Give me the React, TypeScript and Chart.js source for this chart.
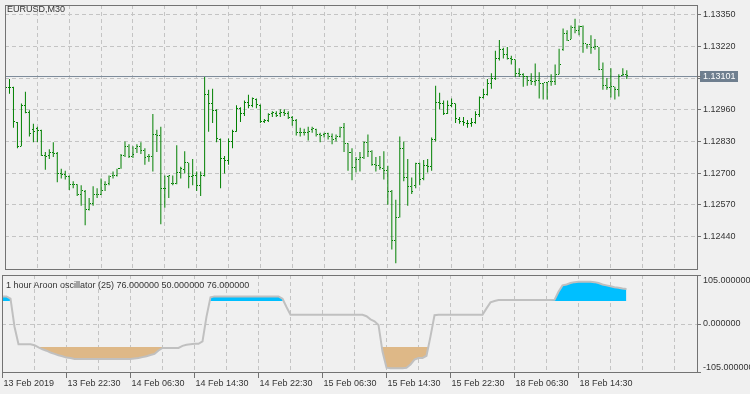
import React, { useEffect, useRef } from "react";
import { Chart, registerables } from "chart.js";
Chart.register(...registerables);

const FONT = "'Liberation Sans', Arial, sans-serif";
const FONT_SIZE = 9;
const TEXT = "#343434";
const GRID = "#c4c4c4";
const FRAME = "#737373";
const BAR = "#008000";

const symbolTitle = "EURUSD,M30";
const indicatorTitle = "1 hour Aroon oscillator (25) 76.000000 50.000000 76.000000";

const opens = [
  1.13051, 1.13051, 1.13051, 1.12907, 1.12811, 1.12979, 1.12951, 1.12879, 1.12883, 1.12875,
  1.12775, 1.12775, 1.12787, 1.12783, 1.12699, 1.12695, 1.12687, 1.12655, 1.12655, 1.12611,
  1.12627, 1.12551, 1.12575, 1.12611, 1.12611, 1.12655, 1.12659, 1.12691, 1.12691, 1.12719,
  1.12775, 1.12811, 1.12771, 1.12803, 1.12811, 1.12795, 1.12767, 1.12771, 1.12859, 1.12855,
  1.12639, 1.12687, 1.12659, 1.12659, 1.12703, 1.12715, 1.12743, 1.12687, 1.12691, 1.12651,
  1.12691, 1.13023, 1.12987, 1.12959, 1.12839, 1.12759, 1.12751, 1.12831, 1.12871, 1.12967,
  1.12947, 1.12991, 1.12979, 1.13003, 1.12979, 1.12911, 1.12915, 1.12947, 1.12947, 1.12947,
  1.12951, 1.12947, 1.12931, 1.12915, 1.12867, 1.12867, 1.12867, 1.12879, 1.12879, 1.12859,
  1.12859, 1.12863, 1.12851, 1.12843, 1.12851, 1.12887, 1.12823, 1.12787, 1.12723, 1.12755,
  1.12763, 1.12827, 1.12791, 1.12735, 1.12731, 1.12719, 1.12711, 1.12627, 1.12423, 1.12519,
  1.12803, 1.12683, 1.12647, 1.12651, 1.12739, 1.12679, 1.12731, 1.12727, 1.12839, 1.12991,
  1.12987, 1.12947, 1.12979, 1.12987, 1.12919, 1.12911, 1.12903, 1.12903, 1.12907, 1.12943,
  1.13011, 1.13023, 1.13067, 1.13091, 1.13171, 1.13207, 1.13187, 1.13171, 1.13167, 1.13111,
  1.13107, 1.13099, 1.13079, 1.13075, 1.13079, 1.13067, 1.13071, 1.13075, 1.13075, 1.13107,
  1.13207, 1.13275, 1.13251, 1.13299, 1.13287, 1.13303, 1.13231, 1.13227, 1.13215, 1.13219,
  1.13127, 1.13059, 1.13051, 1.13055, 1.13043, 1.13103, 1.13107,
];

const highs = [
  1.13079, 1.13087, 1.13055, 1.12911, 1.12987, 1.13035, 1.12959, 1.12903, 1.12891, 1.12879,
  1.12787, 1.12799, 1.12827, 1.12787, 1.12719, 1.12711, 1.12691, 1.12667, 1.12655, 1.12651,
  1.12631, 1.12599, 1.12647, 1.12639, 1.12679, 1.12667, 1.12691, 1.12707, 1.12719, 1.12779,
  1.12831, 1.12819, 1.12811, 1.12819, 1.12827, 1.12803, 1.12779, 1.12943, 1.12879, 1.12891,
  1.12691, 1.12691, 1.12691, 1.12815, 1.12727, 1.12791, 1.12743, 1.12759, 1.12707, 1.12707,
  1.13095, 1.13043, 1.13047, 1.12963, 1.12843, 1.12771, 1.12843, 1.12879, 1.12979, 1.12971,
  1.12999, 1.13023, 1.13011, 1.13007, 1.12983, 1.12923, 1.12947, 1.12955, 1.12955, 1.12963,
  1.12963, 1.12955, 1.12935, 1.12923, 1.12887, 1.12883, 1.12891, 1.12891, 1.12883, 1.12867,
  1.12867, 1.12867, 1.12863, 1.12859, 1.12891, 1.12907, 1.12823, 1.12803, 1.12767, 1.12787,
  1.12831, 1.12859, 1.12795, 1.12767, 1.12771, 1.12791, 1.12731, 1.12631, 1.12591, 1.12851,
  1.12831, 1.12759, 1.12683, 1.12743, 1.12743, 1.12755, 1.12759, 1.12847, 1.13059, 1.13031,
  1.12999, 1.12999, 1.13007, 1.12987, 1.12931, 1.12931, 1.12919, 1.12927, 1.12955, 1.13015,
  1.13047, 1.13087, 1.13111, 1.13203, 1.13247, 1.13215, 1.13219, 1.13183, 1.13167, 1.13131,
  1.13111, 1.13099, 1.13111, 1.13151, 1.13115, 1.13071, 1.13075, 1.13107, 1.13147, 1.13211,
  1.13295, 1.13287, 1.13307, 1.13335, 1.13307, 1.13307, 1.13231, 1.13267, 1.13251, 1.13219,
  1.13155, 1.13091, 1.13131, 1.13055, 1.13107, 1.13131, 1.13123,
];

const lows = [
  1.13039, 1.13027, 1.12887, 1.12803, 1.12811, 1.12947, 1.12851, 1.12827, 1.12827, 1.12771,
  1.12715, 1.12759, 1.12767, 1.12663, 1.12679, 1.12675, 1.12631, 1.12639, 1.12607, 1.12567,
  1.12487, 1.12547, 1.12567, 1.12599, 1.12611, 1.12627, 1.12651, 1.12679, 1.12687, 1.12719,
  1.12767, 1.12763, 1.12763, 1.12783, 1.12779, 1.12735, 1.12747, 1.12707, 1.12787, 1.12491,
  1.12559, 1.12599, 1.12651, 1.12655, 1.12679, 1.12699, 1.12639, 1.12651, 1.12627, 1.12607,
  1.12687, 1.12871, 1.12907, 1.12827, 1.12639, 1.12699, 1.12735, 1.12803, 1.12871, 1.12911,
  1.12935, 1.12967, 1.12971, 1.12967, 1.12907, 1.12907, 1.12911, 1.12931, 1.12931, 1.12931,
  1.12935, 1.12923, 1.12895, 1.12855, 1.12851, 1.12855, 1.12835, 1.12867, 1.12851, 1.12827,
  1.12847, 1.12839, 1.12819, 1.12831, 1.12847, 1.12787, 1.12711, 1.12671, 1.12703, 1.12707,
  1.12759, 1.12767, 1.12731, 1.12707, 1.12715, 1.12675, 1.12571, 1.12387, 1.12331, 1.12519,
  1.12667, 1.12567, 1.12615, 1.12639, 1.12651, 1.12671, 1.12703, 1.12711, 1.12831, 1.12963,
  1.12939, 1.12943, 1.12971, 1.12907, 1.12903, 1.12895, 1.12887, 1.12891, 1.12903, 1.12931,
  1.13007, 1.13019, 1.13047, 1.13083, 1.13163, 1.13171, 1.13167, 1.13147, 1.13095, 1.13095,
  1.13055, 1.13059, 1.13063, 1.13059, 1.13007, 1.13003, 1.13003, 1.13059, 1.13063, 1.13107,
  1.13203, 1.13243, 1.13251, 1.13275, 1.13267, 1.13195, 1.13211, 1.13191, 1.13207, 1.13123,
  1.13043, 1.13043, 1.13011, 1.13003, 1.13015, 1.13099, 1.13087,
];

const closes = [
  1.13051, 1.13051, 1.12911, 1.12811, 1.12979, 1.12951, 1.12863, 1.12871, 1.12875, 1.12775,
  1.12771, 1.12787, 1.12783, 1.12699, 1.12695, 1.12687, 1.12655, 1.12655, 1.12611, 1.12631,
  1.12551, 1.12575, 1.12611, 1.12611, 1.12631, 1.12655, 1.12687, 1.12691, 1.12719, 1.12775,
  1.12811, 1.12771, 1.12779, 1.12811, 1.12795, 1.12763, 1.12771, 1.12859, 1.12855, 1.12639,
  1.12639, 1.12691, 1.12659, 1.12703, 1.12719, 1.12743, 1.12687, 1.12691, 1.12651, 1.12691,
  1.13023, 1.12987, 1.12959, 1.12843, 1.12759, 1.12751, 1.12831, 1.12871, 1.12967, 1.12947,
  1.12991, 1.12979, 1.13007, 1.12983, 1.12911, 1.12915, 1.12943, 1.12951, 1.12939, 1.12951,
  1.12947, 1.12931, 1.12915, 1.12867, 1.12867, 1.12867, 1.12871, 1.12883, 1.12859, 1.12855,
  1.12863, 1.12851, 1.12839, 1.12851, 1.12887, 1.12823, 1.12787, 1.12723, 1.12755, 1.12763,
  1.12827, 1.12791, 1.12735, 1.12731, 1.12723, 1.12711, 1.12627, 1.12423, 1.12519, 1.12803,
  1.12683, 1.12647, 1.12627, 1.12739, 1.12675, 1.12731, 1.12727, 1.12839, 1.12991, 1.12987,
  1.12947, 1.12979, 1.12987, 1.12927, 1.12911, 1.12907, 1.12903, 1.12907, 1.12943, 1.13011,
  1.13023, 1.13067, 1.13091, 1.13171, 1.13207, 1.13187, 1.13171, 1.13167, 1.13111, 1.13107,
  1.13099, 1.13079, 1.13075, 1.13079, 1.13067, 1.13071, 1.13075, 1.13075, 1.13107, 1.13147,
  1.13275, 1.13247, 1.13299, 1.13287, 1.13303, 1.13231, 1.13227, 1.13215, 1.13219, 1.13127,
  1.13059, 1.13051, 1.13055, 1.13043, 1.13099, 1.13107, 1.13101,
];

const aroon = [
  60, 60, 55, -6, -44, -44, -44, -44, -46, -51,
  -55, -58, -62, -65, -68, -70, -73, -74, -76, -76,
  -76, -76, -76, -76, -76, -76, -76, -76, -76, -76,
  -76, -76, -76, -75, -74, -72, -70, -67.5, -65, -57.5,
  -52, -52, -52, -52, -52, -47.5, -45, -44, -43, -43,
  -38, 16, 58, 60, 60, 60, 60, 60, 60, 60,
  60, 60, 60, 60, 60, 60, 60, 60, 60, 60,
  55, 37, 20, 20, 20, 20, 20, 20, 20, 20,
  20, 20, 20, 20, 20, 20, 20, 20, 20, 20,
  20, 17, 10, 6, -2, -60, -95, -96, -96, -96,
  -96, -95, -88, -77.6, -74, -74, -69, -27, 19, 20,
  20, 20, 20, 20, 20, 20, 20, 20, 20, 20,
  20, 34, 47, 50, 52, 52, 52, 52, 52, 52,
  52, 52, 52, 52, 52, 52, 52, 52, 52.5, 70,
  84, 86, 89, 91, 92, 92, 92, 92, 91, 89,
  86, 84, 82, 80, 79, 77, 76,
];

const bidPrice = 1.13101;
const bidLabel = "1.13101";
const upperLevel = 50;
const lowerLevel = -50;

const priceTicks = [1.1244, 1.1257, 1.127, 1.1283, 1.1296, 1.1309, 1.1322, 1.1335];
const priceTickLabels = ["1.12440", "1.12570", "1.12700", "1.12830", "1.12960", "", "1.13220", "1.13350"];
const gridBars = [0, 8, 16, 24, 32, 40, 48, 56, 64, 72, 80, 88, 96, 104, 112, 120, 128, 136, 144, 152, 160, 168];
const timeTickBars = [0, 16, 32, 48, 64, 80, 96, 112, 128, 144];
const timeTickLabels = [
  "13 Feb 2019", "13 Feb 22:30", "14 Feb 06:30", "14 Feb 14:30", "14 Feb 22:30",
  "15 Feb 06:30", "15 Feb 14:30", "15 Feb 22:30", "18 Feb 06:30", "18 Feb 14:30",
];
const oscTicks = [-105, 0, 105];
const oscTickLabels: (string | string[])[] = [["-105.000000", ""], "0.000000", ["", "105.000000"]];

const xMin = -0.125;
const xMax = 173.875;
const priceMin = 1.12303;
const priceMax = 1.13391;
const oscMin = -106.5217;
const oscMax = 106.5217;

function tickImage(side: "left" | "right", len: number) {
  const c = document.createElement("canvas");
  c.width = 2 * len + 1;
  c.height = 1;
  const g = c.getContext("2d")!;
  g.fillStyle = BAR;
  if (side === "left") g.fillRect(0, 0, len, 1);
  else g.fillRect(len + 1, 0, len, 1);
  return c;
}

const zeroPad = (s: any) => {
  s.paddingTop = 0;
  s.paddingBottom = 0;
  s.paddingLeft = 0;
  s.paddingRight = 0;
};

const framePlugin = {
  id: "frame",
  afterDraw(chart: any) {
    const { ctx, chartArea: a } = chart;
    ctx.save();
    ctx.strokeStyle = FRAME;
    ctx.lineWidth = 1;
    ctx.setLineDash([]);
    ctx.strokeRect(a.left + 0.5, a.top + 0.5, a.right - a.left - 1, a.bottom - a.top - 1);
    ctx.restore();
  },
};

const crispPlugin = {
  id: "crisp",
  beforeDatasetsDraw(chart: any) {
    chart.ctx.imageSmoothingEnabled = false;
  },
};

const bidPlugin = {
  id: "bid",
  beforeDatasetsDraw(chart: any) {
    const { ctx, chartArea: a } = chart;
    const y = Math.round(chart.scales.y.getPixelForValue(bidPrice)) + 0.5;
    ctx.save();
    ctx.strokeStyle = "#7d8b9a";
    ctx.lineWidth = 1;
    ctx.beginPath();
    ctx.moveTo(a.left, y);
    ctx.lineTo(a.right, y);
    ctx.stroke();
    ctx.restore();
  },
  afterDraw(chart: any) {
    const { ctx, chartArea: a } = chart;
    const y = Math.round(chart.scales.y.getPixelForValue(bidPrice));
    ctx.save();
    ctx.fillStyle = "#6f7f8f";
    ctx.fillRect(a.right + 2, y - 5, 38, 11);
    ctx.strokeStyle = FRAME;
    ctx.beginPath();
    ctx.moveTo(a.right, y + 0.5);
    ctx.lineTo(a.right + 3, y + 0.5);
    ctx.stroke();
    ctx.fillStyle = "#ffffff";
    ctx.font = `${FONT_SIZE}px ${FONT}`;
    ctx.textBaseline = "middle";
    ctx.textAlign = "left";
    ctx.fillText(bidLabel, a.right + 5, y + 0.5);
    ctx.restore();
  },
};

export default function App() {
  const mainRef = useRef<HTMLCanvasElement>(null);
  const indRef = useRef<HTMLCanvasElement>(null);

  useEffect(() => {
    const font = { family: FONT, size: FONT_SIZE, lineHeight: 1.2 };
    const openImg = tickImage("left", 1);
    const closeImg = tickImage("right", 1);
    const idx = closes.map((_, i) => i);

    const main = new Chart(mainRef.current!, {
      type: "bar",
      data: {
        datasets: [
          {
            type: "scatter",
            data: idx.map((i) => ({ x: i, y: opens[i] })),
            pointStyle: openImg as any,
            pointRadius: 1,
            order: 0,
          } as any,
          {
            type: "scatter",
            data: idx.map((i) => ({ x: i, y: closes[i] })),
            pointStyle: closeImg as any,
            pointRadius: 1,
            order: 0,
          } as any,
          {
            type: "bar",
            data: idx.map((i) => ({ x: i, y: [lows[i], highs[i]] })),
            backgroundColor: BAR,
            borderWidth: 0,
            barThickness: 1,
            inflateAmount: 0,
            order: 1,
          } as any,
        ],
      },
      options: {
        animation: false,
        responsive: false,
        devicePixelRatio: 1,
        events: [],
        layout: { padding: { left: 2, top: 2, right: 0, bottom: 0 } },
        plugins: { legend: { display: false }, tooltip: { enabled: false } },
        scales: {
          x: {
            type: "linear",
            min: xMin,
            max: xMax,
            bounds: "data",
            offset: false,
            afterBuildTicks: (s: any) => {
              s.ticks = gridBars.map((v) => ({ value: v }));
            },
            afterFit: (s: any) => {
              s.height = 1;
              zeroPad(s);
            },
            ticks: { display: false },
            grid: { color: GRID, drawTicks: false, offset: false },
            border: { display: false, dash: [4, 3] },
          },
          y: {
            type: "linear",
            position: "right",
            min: priceMin,
            max: priceMax,
            bounds: "data",
            afterBuildTicks: (s: any) => {
              s.ticks = priceTicks.map((v) => ({ value: v }));
            },
            afterFit: (s: any) => {
              s.width = 52;
              zeroPad(s);
            },
            ticks: {
              autoSkip: false,
              padding: 2,
              color: TEXT,
              font,
              callback: (_v: any, i: number) => priceTickLabels[i],
            },
            grid: { color: GRID, tickLength: 3, tickColor: FRAME, tickBorderDash: [] },
            border: { display: false, dash: [4, 3] },
          },
        },
      } as any,
      plugins: [crispPlugin, bidPlugin, framePlugin],
    });

    const ind = new Chart(indRef.current!, {
      type: "line",
      data: {
        datasets: [
          {
            data: idx.map((i) => ({ x: i, y: aroon[i] })),
            borderColor: "#c0c0c0",
            borderWidth: 2,
            pointRadius: 0,
            tension: 0,
            fill: false,
            order: 0,
          },
          {
            data: idx.map((i) => ({ x: i, y: aroon[i] })),
            borderColor: "rgba(0,0,0,0)",
            borderWidth: 0,
            pointRadius: 0,
            tension: 0,
            fill: { value: upperLevel, above: "#00bfff", below: "rgba(0,0,0,0)" },
            order: 1,
          },
          {
            data: idx.map((i) => ({ x: i, y: aroon[i] })),
            borderColor: "rgba(0,0,0,0)",
            borderWidth: 0,
            pointRadius: 0,
            tension: 0,
            fill: { value: lowerLevel, above: "rgba(0,0,0,0)", below: "#deb887" },
            order: 2,
          },
        ],
      },
      options: {
        animation: false,
        responsive: false,
        devicePixelRatio: 1,
        events: [],
        layout: { padding: { left: 2, top: 0, right: 0, bottom: 0 } },
        plugins: { legend: { display: false }, tooltip: { enabled: false } },
        scales: {
          x: {
            type: "linear",
            min: xMin,
            max: xMax,
            bounds: "data",
            offset: false,
            afterBuildTicks: (s: any) => {
              s.ticks = gridBars.map((v) => ({ value: v }));
            },
            afterFit: (s: any) => {
              s.height = 21;
              zeroPad(s);
            },
            ticks: {
              autoSkip: false,
              maxRotation: 0,
              minRotation: 0,
              align: "start",
              labelOffset: 1,
              padding: 0,
              color: TEXT,
              font,
              callback: (v: any) => {
                const j = timeTickBars.indexOf(v);
                return j >= 0 ? timeTickLabels[j] : "";
              },
            },
            grid: {
              color: GRID,
              tickLength: 5,
              tickBorderDash: [],
              tickColor: (c: any) => (timeTickBars.indexOf(c.tick?.value) >= 0 ? FRAME : "rgba(0,0,0,0)"),
            },
            border: { display: false, dash: [4, 3] },
          },
          y: {
            type: "linear",
            position: "right",
            min: oscMin,
            max: oscMax,
            bounds: "data",
            afterBuildTicks: (s: any) => {
              s.ticks = oscTicks.map((v) => ({ value: v }));
            },
            afterFit: (s: any) => {
              s.width = 52;
              zeroPad(s);
            },
            ticks: {
              autoSkip: false,
              padding: 2,
              color: TEXT,
              font: { family: FONT, size: FONT_SIZE, lineHeight: 1 },
              callback: (_v: any, i: number) => oscTickLabels[i],
            },
            grid: { color: GRID, tickLength: 3, tickColor: FRAME, tickBorderDash: [] },
            border: { display: false, dash: [4, 3] },
          },
        },
      } as any,
      plugins: [framePlugin],
    });

    return () => {
      main.destroy();
      ind.destroy();
    };
  }, []);

  const titleStyle: React.CSSProperties = {
    position: "absolute",
    fontFamily: FONT,
    fontSize: FONT_SIZE,
    lineHeight: "10px",
    color: TEXT,
    whiteSpace: "nowrap",
  };

  return (
    <div style={{ position: "absolute", left: 0, top: 0, width: 750, height: 394, background: "#f0f0f0", overflow: "hidden" }}>
      <canvas ref={mainRef} width={750} height={275} style={{ position: "absolute", left: 0, top: 0, width: 750, height: 275 }} />
      <canvas ref={indRef} width={750} height={119} style={{ position: "absolute", left: 0, top: 275, width: 750, height: 119 }} />
      <div style={{ ...titleStyle, left: 7, top: 4 }}>{symbolTitle}</div>
      <div style={{ ...titleStyle, left: 6, top: 280 }}>{indicatorTitle}</div>
    </div>
  );
}
